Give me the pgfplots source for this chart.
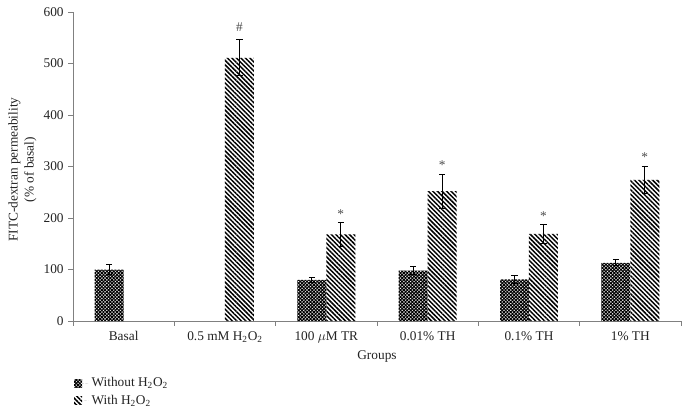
\documentclass[border=0pt]{standalone}
\usepackage{fontspec}
\setmainfont{Liberation Serif}
\usepackage{pgfplots}
\pgfplotsset{compat=1.18}
\usetikzlibrary{patterns.meta}

\definecolor{axisgray}{RGB}{128,128,128}
\definecolor{txt}{RGB}{35,35,35}

\begin{document}
\begin{tikzpicture}[font=\fontsize{10}{12}\selectfont]
% page frame: 690x419 px at 0.75pt per px, axis box at (73,12)-(681,321)
\path[use as bounding box] (-54.75pt,-73.5pt) rectangle (462.75pt,240.75pt);
\begin{axis}[
  scale only axis,
  width=456pt,
  height=231.75pt,
  xmin=-0.5, xmax=5.5,
  ymin=0, ymax=600,
  axis x line=bottom,
  axis y line=left,
  axis line style={-, draw=axisgray, line width=0.7pt},
  xtick={0,...,5},
  xticklabels={Basal, 0.5 mM H\textsubscript{2}O\textsubscript{2}, 100 $\mu$M TR, 0.01\% TH, 0.1\% TH, 1\% TH},
  major x tick style={draw=none},
  minor xtick={-0.5,0.5,...,5.5},
  minor x tick style={draw=axisgray, line width=0.7pt},
  minor tick length=3.5pt,
  ytick={0,100,...,600},
  y tick style={draw=axisgray, line width=0.7pt},
  major tick length=3.5pt,
  tick align=outside,
  tick label style={font=\fontsize{10}{12}\selectfont, text=txt},
  /pgf/number format/assume math mode=true,
  xticklabel style={yshift=-1pt},
  xlabel={Groups},
  xlabel style={at={(axis description cs:0.5,-0.115)}, anchor=center, text=txt},
  ylabel={FITC-dextran permeability\\(\% of basal)},
  ylabel style={at={(axis description cs:-0.083,0.49)}, anchor=center, align=center, text=txt},
  legend style={
    at={(axis description cs:-0.005,-0.165)},
    anchor=north west,
    draw=none,
    fill=none,
    font=\fontsize{10}{12}\selectfont,
    text=txt,
    row sep=0.5pt,
    cells={anchor=west},
  },
  legend image code/.code={%
    \path[#1, draw=none] (0pt,-3pt) rectangle (6pt,3pt);
    \path (0pt,0pt) -- (11pt,0pt);},
  error bars/error bar style={line width=0.6pt, black},
  error bars/error mark options={rotate=90, mark size=2.3pt, line width=0.6pt, black},
]
% Without H2O2 (bars sit left of each group centre)
\addplot[ybar, bar width=0.286, bar shift=0, draw=none,
  pattern={Hatch[angle=45, distance=1.8pt, line width=0.8pt]}, pattern color=black,
  error bars/.cd, y dir=both, y explicit]
  coordinates {
  (-0.143,100) +- (0,10)
  (1.857,80)   +- (0,5)
  (2.857,98)   +- (0,8)
  (3.857,81)   +- (0,8)
  (4.857,113)  +- (0,6)
};
\addlegendentry{Without H\textsubscript{2}O\textsubscript{2}}
% With H2O2 (bars sit right of each group centre)
\addplot[ybar, bar width=0.286, bar shift=0, draw=none,
  pattern={Lines[angle=-45, distance=2.4pt, line width=1.1pt]}, pattern color=black,
  error bars/.cd, y dir=both, y explicit]
  coordinates {
  (1.143,511) +- (0,35)
  (2.143,168) +- (0,23)
  (3.143,252) +- (0,33)
  (4.143,169) +- (0,18)
  (5.143,274) +- (0,27)
};
\addlegendentry{With H\textsubscript{2}O\textsubscript{2}}
% significance marks above the error bars
\addplot[draw=none, forget plot, nodes near coords, point meta=explicit symbolic,
  every node near coord/.append style={anchor=south, inner sep=1pt, yshift=2pt, text=black!70,
    font=\fontsize{10}{12}\selectfont}]
  coordinates {
  (1.143,553)[\#]
  (2.143,191)[*]
  (3.143,285)[*]
  (4.143,187)[*]
  (5.143,301)[*]
};
\end{axis}
\end{tikzpicture}
\end{document}
